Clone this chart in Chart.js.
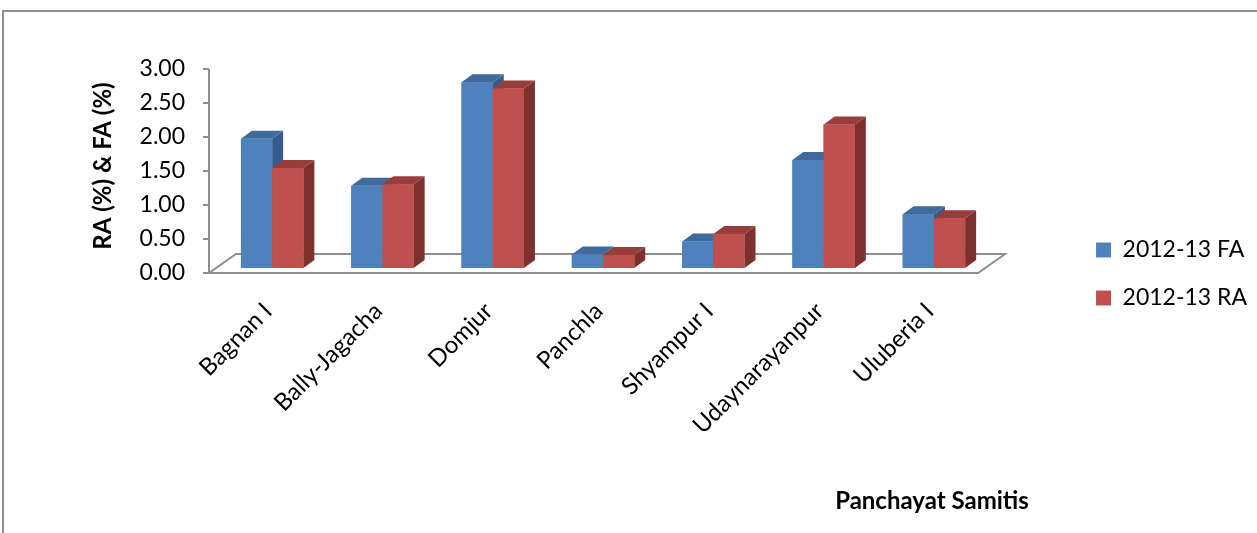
<!DOCTYPE html>
<html>
<head>
<meta charset="utf-8">
<style>
  html, body { margin: 0; padding: 0; background: #ffffff; }
  canvas { display: block; }
</style>
<script src="https://cdn.jsdelivr.net/npm/chart.js@4.4.1/dist/chart.umd.min.js"></script>
</head>
<body>
<canvas id="chart" width="1257" height="533"></canvas>
<script>
// Panchayat Samiti values for 2012-13
const categories = ['Bagnan I', 'Bally-Jagacha', 'Domjur', 'Panchla', 'Shyampur I', 'Udaynarayanpur', 'Uluberia I'];
const faValues = [1.90, 1.21, 2.73, 0.20, 0.39, 1.59, 0.79];
const raValues = [1.47, 1.23, 2.64, 0.19, 0.50, 2.11, 0.73];
const seriesNames = ['2012-13 FA', '2012-13 RA'];
const yTickValues = [0, 0.5, 1, 1.5, 2, 2.5, 3];
const yTitle = 'RA (%) & FA (%)';
const xTitle = 'Panchayat Samitis';

const FONT = 'Lato';
const AXIS_GREY = '#8e8e8e';

// oblique projection: bar depth, and floor edges relative to the bar plane
const DEPTH = { dx: 11, dy: -8 };
const FLOOR_FRONT = { dx: -8, dy: 5 };
const FLOOR_BACK = { dx: 19, dy: -14 };

const shades = [
  { front: '#4F81BD', top: '#3F6A9C', side: '#355C8A' },
  { front: '#C0504D', top: '#973E3B', side: '#7C312F' }
];

function poly(ctx, pts, fill) {
  ctx.beginPath();
  ctx.moveTo(pts[0][0], pts[0][1]);
  for (let i = 1; i < pts.length; i++) ctx.lineTo(pts[i][0], pts[i][1]);
  ctx.closePath();
  ctx.fillStyle = fill;
  ctx.fill();
}

const bars3d = {
  id: 'bars3d',
  beforeDraw(chart) {
    // outer frame of the chart box
    const ctx = chart.ctx;
    ctx.save();
    ctx.strokeStyle = AXIS_GREY;
    ctx.lineWidth = 2;
    ctx.beginPath();
    ctx.moveTo(3, chart.height);
    ctx.lineTo(3, 11);
    ctx.lineTo(chart.width, 11);
    ctx.stroke();
    ctx.restore();
  },
  beforeDatasetsDraw(chart) {
    const ctx = chart.ctx;
    const area = chart.chartArea;
    const y = chart.scales.y;
    const base = y.getPixelForValue(0);
    const fl = [area.left + FLOOR_FRONT.dx, base + FLOOR_FRONT.dy];
    const fr = [area.right + FLOOR_FRONT.dx - 3, base + FLOOR_FRONT.dy];
    const br = [area.right + FLOOR_BACK.dx - 3, base + FLOOR_BACK.dy];
    const bl = [area.left + FLOOR_BACK.dx, base + FLOOR_BACK.dy];
    ctx.save();
    ctx.strokeStyle = AXIS_GREY;
    ctx.lineWidth = 2;
    // floor outline
    ctx.beginPath();
    ctx.moveTo(fl[0], fl[1]);
    ctx.lineTo(fr[0], fr[1]);
    ctx.lineTo(br[0], br[1]);
    ctx.lineTo(bl[0], bl[1]);
    ctx.closePath();
    ctx.stroke();
    // value axis line with its tick marks
    const ax = area.left + FLOOR_FRONT.dx;
    ctx.beginPath();
    ctx.moveTo(ax, y.getPixelForValue(y.max) + FLOOR_FRONT.dy);
    ctx.lineTo(ax, base + FLOOR_FRONT.dy);
    y.ticks.forEach(t => {
      const py = y.getPixelForValue(t.value) + FLOOR_FRONT.dy;
      ctx.moveTo(ax - 6, py);
      ctx.lineTo(ax, py);
    });
    ctx.stroke();
    ctx.restore();
  },
  afterDatasetsDraw(chart) {
    // each bar as a box: side, top, then front, left series before right series
    const ctx = chart.ctx;
    const metas = chart.data.datasets.map((d, i) => chart.getDatasetMeta(i));
    ctx.save();
    categories.forEach((c, k) => {
      metas.forEach((meta, di) => {
        const bar = meta.data[k];
        if (!bar) return;
        const shade = shades[di];
        const p = bar.getProps(['x', 'y', 'base', 'width'], true);
        const l = p.x - p.width / 2;
        const r = p.x + p.width / 2;
        const t = p.y;
        const b = p.base;
        poly(ctx, [[r, t], [r + DEPTH.dx, t + DEPTH.dy], [r + DEPTH.dx, b + DEPTH.dy], [r, b]], shade.side);
        poly(ctx, [[l, t], [r, t], [r + DEPTH.dx, t + DEPTH.dy], [l + DEPTH.dx, t + DEPTH.dy]], shade.top);
        poly(ctx, [[l, t], [r, t], [r, b], [l, b]], shade.front);
      });
    });
    ctx.restore();
  },
  afterDraw(chart) {
    const ctx = chart.ctx;
    ctx.save();
    ctx.font = 'bold 24px ' + FONT;
    ctx.fillStyle = '#000000';
    ctx.textAlign = 'center';
    ctx.textBaseline = 'middle';
    ctx.fillText(xTitle, 932, 501);
    ctx.restore();
  }
};

new Chart(document.getElementById('chart'), {
  type: 'bar',
  data: {
    labels: categories,
    datasets: [
      { label: seriesNames[0], data: faValues, backgroundColor: shades[0].front, borderWidth: 0 },
      { label: seriesNames[1], data: raValues, backgroundColor: shades[1].front, borderWidth: 0 }
    ]
  },
  options: {
    responsive: false,
    devicePixelRatio: 1,
    animation: false,
    categoryPercentage: 0.566,
    barPercentage: 1,
    layout: { padding: { top: 64, left: 60, right: 0, bottom: 49 } },
    plugins: {
      tooltip: { enabled: false },
      legend: {
        position: 'right',
        labels: {
          boxWidth: 15,
          boxHeight: 15,
          padding: 25,
          color: '#000000',
          font: { family: FONT, size: 23 }
        }
      }
    },
    scales: {
      x: {
        grid: { display: false, drawTicks: false },
        border: { display: false },
        ticks: {
          autoSkip: false,
          minRotation: 45,
          maxRotation: 45,
          padding: 29,
          labelOffset: -4,
          color: '#000000',
          font: { family: FONT, size: 24 }
        },
        afterFit: s => { s.height = 216; }
      },
      y: {
        min: 0,
        max: 3,
        grid: { display: false, drawTicks: false },
        border: { display: false },
        afterBuildTicks: s => { s.ticks = yTickValues.map(v => ({ value: v })); },
        ticks: {
          padding: 32,
          labelOffset: 5,
          color: '#000000',
          font: { family: FONT, size: 23 },
          callback: v => Number(v).toFixed(2)
        },
        title: {
          display: true,
          text: yTitle,
          color: '#000000',
          font: { family: FONT, size: 24, weight: 'bold' },
          padding: { top: 29, bottom: 0 }
        },
        afterFit: s => { s.width = 157; }
      },
      gap: {
        type: 'linear',
        position: 'right',
        display: true,
        grid: { display: false, drawTicks: false },
        border: { display: false },
        ticks: { display: false },
        afterFit: s => { s.width = 82; }
      }
    }
  },
  plugins: [bars3d]
});
</script>
</body>
</html>
